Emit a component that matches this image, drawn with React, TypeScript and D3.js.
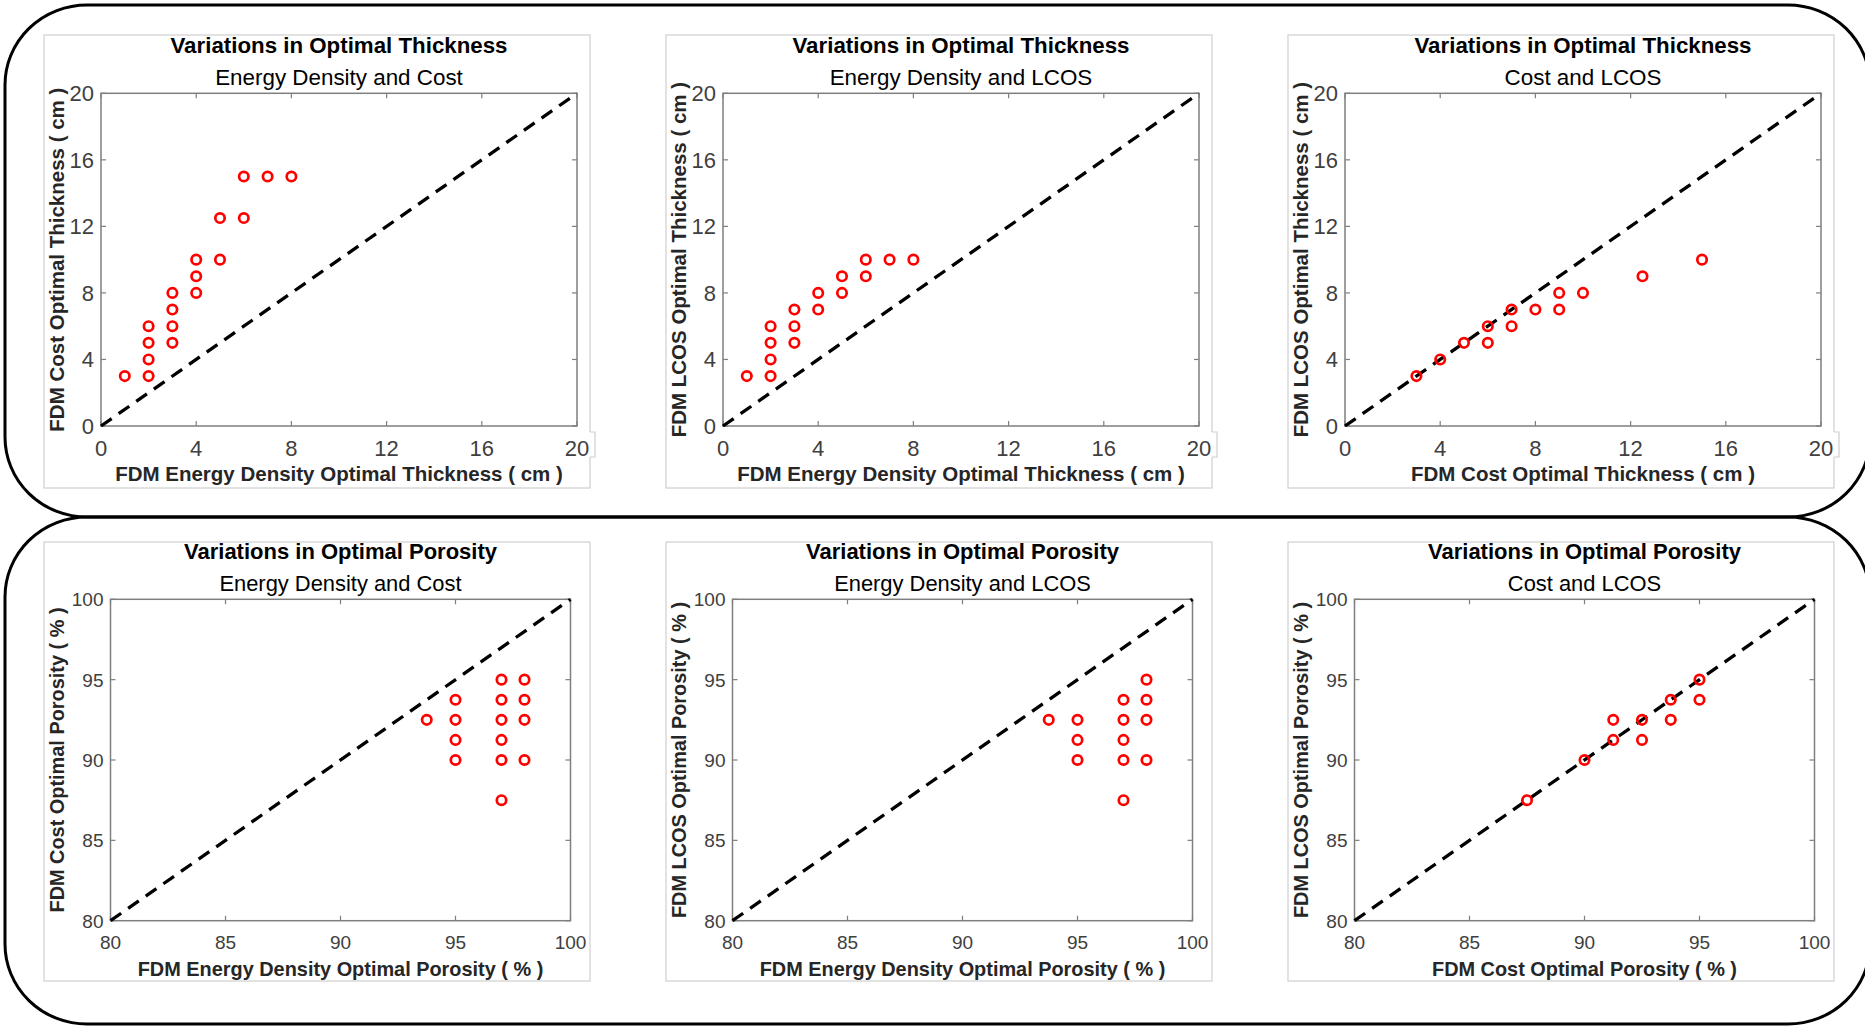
import React from 'react';
import * as d3 from 'd3';

const FONT = '"Liberation Sans", Arial, Helvetica, sans-serif';
const NARROW_FONT = '"Liberation Sans Narrow", "Arial Narrow", "Liberation Sans", Arial, sans-serif';

// ---------- data ----------
const thicknessTicks = [0, 4, 8, 12, 16, 20];
const porosityTicks = [80, 85, 90, 95, 100];
const thicknessDomain = [0, 20];
const porosityDomain = [80, 100];

const thicknessTitle = 'Variations in Optimal Thickness';
const porosityTitle = 'Variations in Optimal Porosity';
const subtitles = ['Energy Density and Cost', 'Energy Density and LCOS', 'Cost and LCOS'];

const thicknessXLabels = [
  'FDM Energy Density Optimal Thickness ( cm )',
  'FDM Energy Density Optimal Thickness ( cm )',
  'FDM Cost Optimal Thickness ( cm )',
];
const thicknessYLabels = [
  'FDM Cost Optimal Thickness ( cm )',
  'FDM LCOS Optimal Thickness ( cm )',
  'FDM LCOS Optimal Thickness ( cm )',
];
const porosityXLabels = [
  'FDM Energy Density Optimal Porosity ( % )',
  'FDM Energy Density Optimal Porosity ( % )',
  'FDM Cost Optimal Porosity ( % )',
];
const porosityYLabels = [
  'FDM Cost Optimal Porosity ( % )',
  'FDM LCOS Optimal Porosity ( % )',
  'FDM LCOS Optimal Porosity ( % )',
];

const edCostThickX = [1, 2, 2, 2, 2, 3, 3, 3, 3, 4, 4, 4, 5, 5, 6, 6, 7, 8];
const edCostThickY = [3, 3, 4, 5, 6, 5, 6, 7, 8, 8, 9, 10, 10, 12.5, 12.5, 15, 15, 15];

const edLcosThickX = [1, 2, 2, 2, 2, 3, 3, 3, 4, 4, 5, 5, 6, 6, 7, 8];
const edLcosThickY = [3, 3, 4, 5, 6, 5, 6, 7, 7, 8, 8, 9, 9, 10, 10, 10];

const costLcosThickX = [3, 4, 5, 6, 6, 7, 7, 8, 9, 9, 10, 12.5, 15];
const costLcosThickY = [3, 4, 5, 5, 6, 6, 7, 7, 7, 8, 8, 9, 10];

const edCostPoroX = [93.75, 95, 95, 95, 95, 97, 97, 97, 97, 97, 97, 98, 98, 98, 98];
const edCostPoroY = [92.5, 93.75, 92.5, 91.25, 90, 95, 93.75, 92.5, 91.25, 90, 87.5, 95, 93.75, 92.5, 90];

const edLcosPoroX = [93.75, 95, 95, 95, 97, 97, 97, 97, 97, 98, 98, 98, 98];
const edLcosPoroY = [92.5, 92.5, 91.25, 90, 93.75, 92.5, 91.25, 90, 87.5, 95, 93.75, 92.5, 90];

const costLcosPoroX = [87.5, 90, 91.25, 91.25, 92.5, 92.5, 93.75, 93.75, 95, 95];
const costLcosPoroY = [87.5, 90, 92.5, 91.25, 92.5, 91.25, 93.75, 92.5, 95, 93.75];

// ---------- layout ----------
const W = 1865;
const H = 1026;
const BOX_LEFTS = [44, 666, 1288];
const BOX_WIDTH = 546;
const ROWS = [
  {
    boxTop: 35, boxBottom: 488, plotTop: 93.3, plotBottom: 426, plotOffset: 57, plotWidth: 476, bracket: true,
    tickFont: NARROW_FONT, tickSize: 22, tickDy: 7.8, xTickDy: 30,
    titleSize: 22.3, subtitleSize: 22.4, labelSize: 20.5,
  },
  {
    boxTop: 542, boxBottom: 981, plotTop: 599.3, plotBottom: 920.7, plotOffset: 66.5, plotWidth: 460, bracket: false,
    tickFont: FONT, tickSize: 19, tickDy: 7, xTickDy: 28.5,
    titleSize: 22, subtitleSize: 21.9, labelSize: 19.9,
  },
];

type PanelDef = {
  row: number;
  col: number;
  title: string;
  subtitle: string;
  xLabel: string;
  yLabel: string;
  xs: number[];
  ys: number[];
  domain: number[];
  ticks: number[];
};

const panels: PanelDef[] = [
  { row: 0, col: 0, title: thicknessTitle, subtitle: subtitles[0], xLabel: thicknessXLabels[0], yLabel: thicknessYLabels[0], xs: edCostThickX, ys: edCostThickY, domain: thicknessDomain, ticks: thicknessTicks },
  { row: 0, col: 1, title: thicknessTitle, subtitle: subtitles[1], xLabel: thicknessXLabels[1], yLabel: thicknessYLabels[1], xs: edLcosThickX, ys: edLcosThickY, domain: thicknessDomain, ticks: thicknessTicks },
  { row: 0, col: 2, title: thicknessTitle, subtitle: subtitles[2], xLabel: thicknessXLabels[2], yLabel: thicknessYLabels[2], xs: costLcosThickX, ys: costLcosThickY, domain: thicknessDomain, ticks: thicknessTicks },
  { row: 1, col: 0, title: porosityTitle, subtitle: subtitles[0], xLabel: porosityXLabels[0], yLabel: porosityYLabels[0], xs: edCostPoroX, ys: edCostPoroY, domain: porosityDomain, ticks: porosityTicks },
  { row: 1, col: 1, title: porosityTitle, subtitle: subtitles[1], xLabel: porosityXLabels[1], yLabel: porosityYLabels[1], xs: edLcosPoroX, ys: edLcosPoroY, domain: porosityDomain, ticks: porosityTicks },
  { row: 1, col: 2, title: porosityTitle, subtitle: subtitles[2], xLabel: porosityXLabels[2], yLabel: porosityYLabels[2], xs: costLcosPoroX, ys: costLcosPoroY, domain: porosityDomain, ticks: porosityTicks },
];

const AXIS_COLOR = '#7f7f7f';
const TICK_TEXT = '#404040';
const LABEL_COLOR = '#262626';
const TICK_LEN = 5;

function ScatterPanel({ p }: { p: PanelDef }) {
  const g = ROWS[p.row];
  const boxLeft = BOX_LEFTS[p.col];
  const boxRight = boxLeft + BOX_WIDTH;
  const left = boxLeft + g.plotOffset;
  const right = left + g.plotWidth;
  const x = d3.scaleLinear().domain(p.domain).range([left, right]);
  const y = d3.scaleLinear().domain(p.domain).range([g.plotBottom, g.plotTop]);
  const cx = (left + right) / 2;
  const cy = (g.plotTop + g.plotBottom) / 2;
  const diag = d3
    .line<number>()
    .x((v) => x(v))
    .y((v) => y(v))(p.domain);

  return (
    <g>
      {/* figure box */}
      <rect x={boxLeft} y={g.boxTop} width={BOX_WIDTH} height={g.boxBottom - g.boxTop} fill="#fff" stroke="#cfcfcf" strokeWidth={1.2} />
      {g.bracket && (
        <g>
          <rect x={boxRight - 2} y={g.plotBottom + 6} width={6} height={25} fill="#fff" />
          <path
            d={`M${boxRight},${g.plotBottom + 6}H${boxRight + 5}V${g.plotBottom + 31}H${boxRight}`}
            fill="none"
            stroke="#cfcfcf"
            strokeWidth={1.2}
          />
        </g>
      )}
      {/* titles */}
      <text x={cx} y={g.plotTop - 40} textAnchor="middle" fontFamily={FONT} fontWeight="bold" fontSize={g.titleSize} fill="#000">
        {p.title}
      </text>
      <text x={cx} y={g.plotTop - 8.5} textAnchor="middle" fontFamily={FONT} fontSize={g.subtitleSize} fill="#000">
        {p.subtitle}
      </text>
      {/* axes box */}
      <rect x={left} y={g.plotTop} width={right - left} height={g.plotBottom - g.plotTop} fill="#fff" stroke={AXIS_COLOR} strokeWidth={1.5} />
      {/* ticks */}
      {p.ticks.map((t) => (
        <g key={'xt' + t}>
          <line x1={x(t)} x2={x(t)} y1={g.plotBottom} y2={g.plotBottom - TICK_LEN} stroke={AXIS_COLOR} strokeWidth={1.2} />
          <line x1={x(t)} x2={x(t)} y1={g.plotTop} y2={g.plotTop + TICK_LEN} stroke={AXIS_COLOR} strokeWidth={1.2} />
          <text x={x(t)} y={g.plotBottom + g.xTickDy} textAnchor="middle" fontFamily={g.tickFont} fontSize={g.tickSize} fill={TICK_TEXT}>
            {t}
          </text>
        </g>
      ))}
      {p.ticks.map((t) => (
        <g key={'yt' + t}>
          <line x1={left} x2={left + TICK_LEN} y1={y(t)} y2={y(t)} stroke={AXIS_COLOR} strokeWidth={1.2} />
          <line x1={right} x2={right - TICK_LEN} y1={y(t)} y2={y(t)} stroke={AXIS_COLOR} strokeWidth={1.2} />
          <text x={left - 7} y={y(t) + g.tickDy} textAnchor="end" fontFamily={g.tickFont} fontSize={g.tickSize} fill={TICK_TEXT}>
            {t}
          </text>
        </g>
      ))}
      {/* axis labels */}
      <text x={cx} y={g.plotBottom + 55} textAnchor="middle" fontFamily={FONT} fontWeight="bold" fontSize={g.labelSize} fill={LABEL_COLOR}>
        {p.xLabel}
      </text>
      <text
        transform={`translate(${boxLeft + 19.5},${cy}) rotate(-90)`}
        textAnchor="middle"
        fontFamily={FONT}
        fontWeight="bold"
        fontSize={g.labelSize}
        fill={LABEL_COLOR}
      >
        {p.yLabel}
      </text>
      {/* diagonal */}
      <path d={diag || ''} fill="none" stroke="#000" strokeWidth={3.3} strokeDasharray="13 8.5" />
      {/* points */}
      {p.xs.map((v, i) => (
        <circle key={i} cx={x(v)} cy={y(p.ys[i])} r={4.7} fill="none" stroke="#ff0000" strokeWidth={2.7} />
      ))}
    </g>
  );
}

export default function App() {
  return (
    <svg
      width={W}
      height={H}
      viewBox={`0 0 ${W} ${H}`}
      style={{ position: 'absolute', left: 0, top: 0, display: 'block', background: '#fff' }}
    >
      <rect x={0} y={0} width={W} height={H} fill="#fff" />
      {panels.map((p, i) => (
        <ScatterPanel key={i} p={p} />
      ))}
      {/* outer rounded frames */}
      <rect x={5} y={5} width={1865} height={512} rx={82} ry={80} fill="none" stroke="#000" strokeWidth={3} />
      <rect x={5} y={517} width={1865} height={507} rx={82} ry={80} fill="none" stroke="#000" strokeWidth={3} />
    </svg>
  );
}
